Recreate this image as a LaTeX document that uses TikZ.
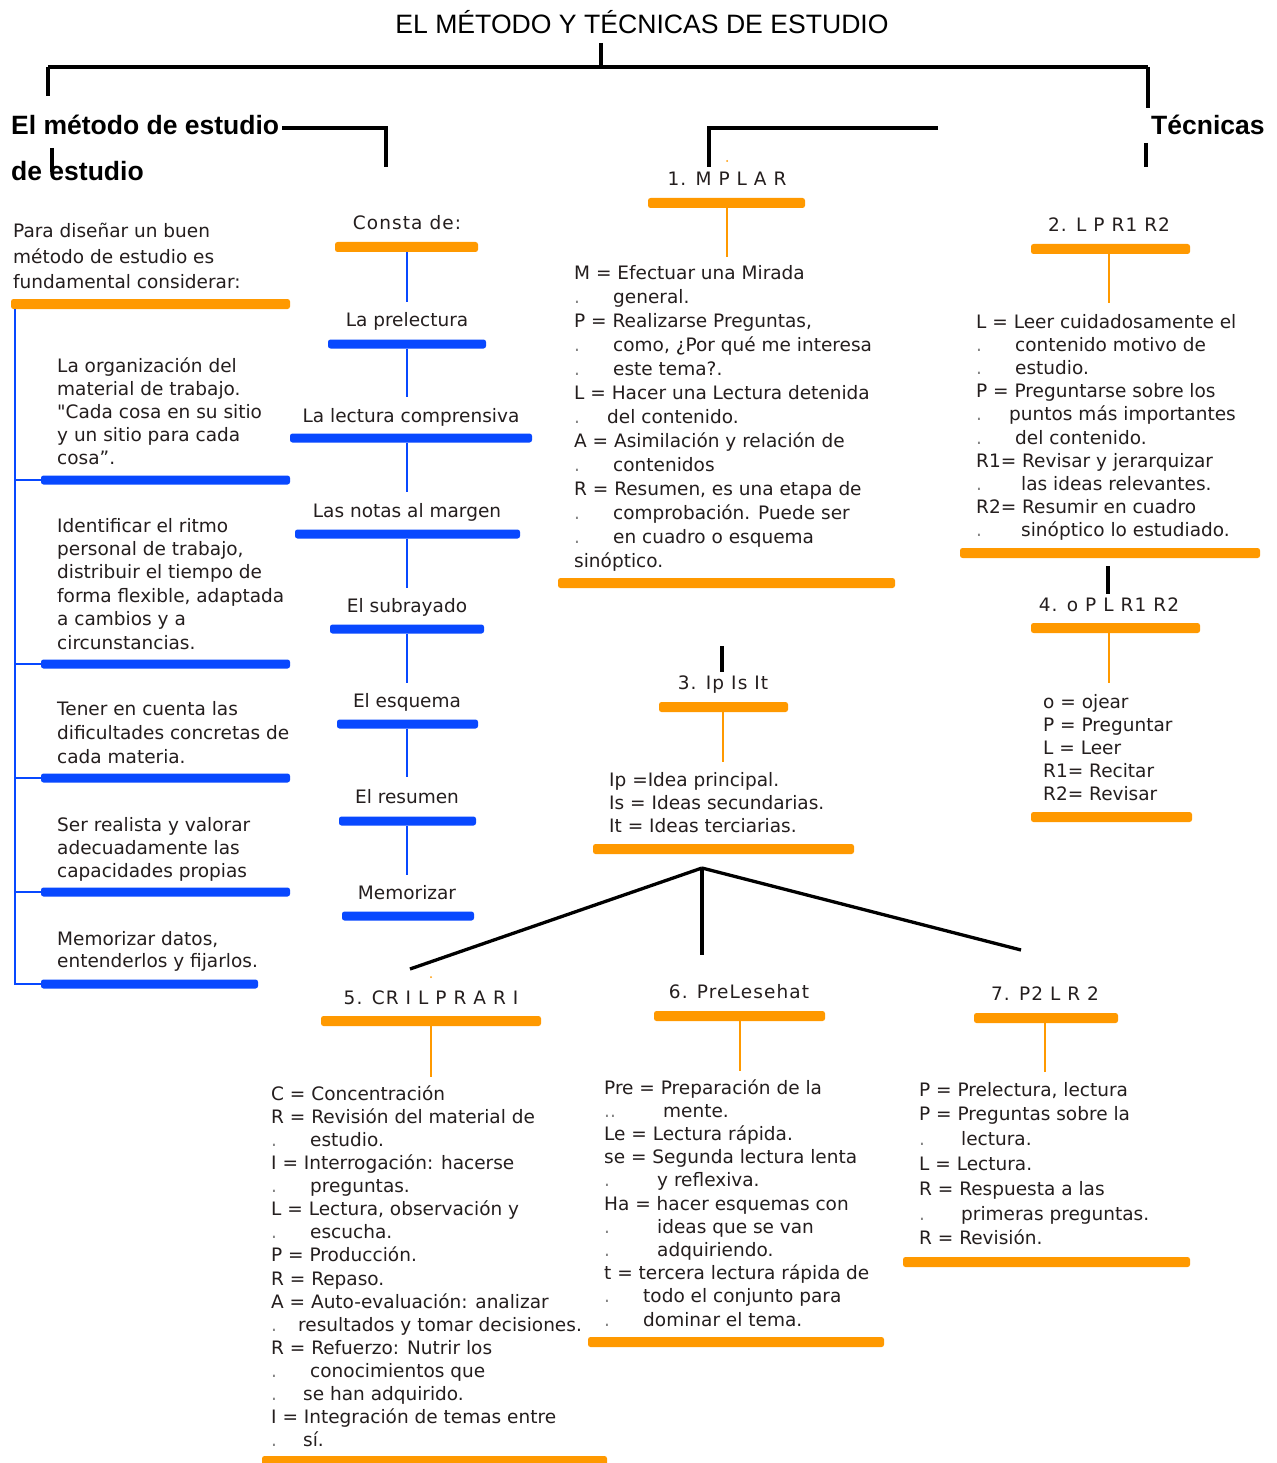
\documentclass[tikz,border=0pt]{standalone}
\usepackage{fontspec}
\setmainfont{DejaVu Sans}
\newfontfamily\arialf{Liberation Sans}
\definecolor{org}{RGB}{255,153,0}
\definecolor{blu}{RGB}{8,72,255}
\definecolor{txtc}{RGB}{36,30,30}
\definecolor{dotc}{RGB}{130,130,130}
\newcommand\dl[1]{\makebox[#1pt][l]{\textcolor{dotc}{.}}}
\newcommand\ddl[1]{\makebox[#1pt][l]{\textcolor{dotc}{..}}}
\newcommand\sq{{\addfontfeature{Ligatures=TeXOff}"}}
\newcommand\obar[4]{\node[obarst, minimum width=#4pt] (#1) at (#2,#3) {};}
\newcommand\bbar[4]{\node[bbarst, minimum width=#4pt] (#1) at (#2,#3) {};}
\begin{document}
\begin{tikzpicture}[x=1pt,y=-1pt,
 bodytxt/.style={anchor=base west, inner sep=0pt, text=txtc, font=\fontsize{18.5}{22}\selectfont},
 headt/.style={anchor=base, inner sep=0pt, text=txtc, font=\fontsize{18.5}{22}\selectfont},
 numt/.style={anchor=base, inner sep=0pt, text=txtc, font=\fontsize{18.5}{22}\selectfont\addfontfeature{LetterSpace=6}},
 obarst/.style={rectangle, fill=org, rounded corners=2.5pt, minimum height=10pt, inner sep=0pt},
 bbarst/.style={rectangle, fill=blu, rounded corners=2.5pt, minimum height=9pt, inner sep=0pt},
 oline/.style={draw=org, line width=1.8pt},
 bline/.style={draw=blu, line width=1.8pt},
 kline/.style={draw=black, line width=3.3pt},
]
\useasboundingbox (0,0) rectangle (1276,1463);
\fill[white] (0,0) rectangle (1276,1463);

% ---------- titles ----------
\node[anchor=base, inner sep=0pt, font=\arialf\fontsize{26.6}{30}\selectfont] (title) at (642,34) {EL MÉTODO Y TÉCNICAS DE ESTUDIO};
\node[anchor=base west, inner sep=0pt, font=\arialf\bfseries\fontsize{26.5}{30}\selectfont] (metodo) at (11,135) {El método de estudio};
\node[anchor=base west, inner sep=0pt, font=\arialf\bfseries\fontsize{26.5}{30}\selectfont] (deest) at (11,181) {de estudio};
\node[anchor=base west, inner sep=0pt, font=\arialf\bfseries\fontsize{26.5}{30}\selectfont] (tecnicas) at (1151,135) {Técnicas};

% black connectors
\coordinate (t0) at (601,43);
\coordinate (tj) at (601,67);
\coordinate (tl) at (48,67);
\coordinate (tr) at (1148,67);
\coordinate (tle) at (48,96);
\coordinate (tre) at (1148,108);
\draw[kline] (t0) -- (tj);
\draw[kline] (tl) -- (tr);
\draw[kline] (tl) -- (tle);
\draw[kline] (tr) -- (tre);
\coordinate (m1) at (282,128);
\coordinate (m2) at (386,167);
\draw[kline] (m1) -| (m2);
\coordinate (d1) at (52,148);
\coordinate (d2) at (52,172);
\draw[kline] (d1) -- (d2);
\coordinate (k1) at (938,128);
\coordinate (k2) at (709,167);
\draw[kline] (k1) -| (k2);
\coordinate (te1) at (1146,143);
\coordinate (te2) at (1146,167);
\draw[kline] (te1) -- (te2);
\coordinate (f1) at (1108,566);
\coordinate (f2) at (1108,594);
\draw[kline] (f1) -- (f2);
\coordinate (g1) at (722,646);
\coordinate (g2) at (722,672);
\draw[kline] (g1) -- (g2);
\coordinate (fork) at (702,868);
\coordinate (fa) at (410,969);
\coordinate (fb) at (702,955);
\coordinate (fc) at (1021,950);
\draw[kline] (fork) -- (fa);
\draw[kline] (fork) -- (fb);
\draw[kline] (fork) -- (fc);

% tiny orange specks
\fill[org] (727,161) circle (1pt);
\fill[org] (431,977) circle (1pt);

% ---------- left column ----------
\foreach \s [count=\i from 0] in {{Para diseñar un buen},{método de estudio es},{fundamental considerar:}}
  {\node[bodytxt] (pa\i) at (13,{238+25*\i}) {\s};}
\obar{pabar}{150.5}{304}{279}
\bbar{lb1}{165.5}{480}{249}
\bbar{lb2}{165.5}{664}{249}
\bbar{lb3}{165.5}{778}{249}
\bbar{lb4}{165.5}{892}{249}
\bbar{lb5}{149.5}{984}{217}
\coordinate (lv0) at (15,309);
\draw[bline] (lv0) |- (lb5.west);
\foreach \b in {lb1,lb2,lb3,lb4}{\draw[bline] (\b.west) -- (\b.west -| lv0);}

\foreach \s [count=\i from 0] in {{La organización del},{material de trabajo.},{\sq Cada cosa en su sitio},{y un sitio para cada},{cosa”.}}
  {\node[bodytxt] (la\i) at (57,{372+23*\i}) {\s};}
\foreach \s [count=\i from 0] in {{Identificar el ritmo},{personal de trabajo,},{distribuir el tiempo de},{forma flexible, adaptada},{a cambios y a},{circunstancias.}}
  {\node[bodytxt] (lb\i) at (57,{532+23.4*\i}) {\s};}
\foreach \s [count=\i from 0] in {{Tener en cuenta las},{dificultades concretas de},{cada materia.}}
  {\node[bodytxt] (lc\i) at (57,{715+24*\i}) {\s};}
\foreach \s [count=\i from 0] in {{Ser realista y valorar},{adecuadamente las},{capacidades propias}}
  {\node[bodytxt] (ld\i) at (57,{831+23*\i}) {\s};}
\foreach \s [count=\i from 0] in {{Memorizar datos,},{entenderlos y fijarlos.}}
  {\node[bodytxt] (le\i) at (57,{945+22*\i}) {\s};}

% ---------- middle column ----------
\node[numt] (consta) at (407,230) {Consta de:};
\obar{constabar}{406.5}{247}{143}
\node[headt] (h1) at (407,326) {La prelectura};
\bbar{hb1}{407}{344}{158}
\node[headt] (h2) at (411,422) {La lectura comprensiva};
\bbar{hb2}{411}{438}{242}
\node[headt] (h3) at (407,517) {Las notas al margen};
\bbar{hb3}{407.5}{534}{225}
\node[headt] (h4) at (407,612) {El subrayado};
\bbar{hb4}{407}{629}{154}
\node[headt] (h5) at (407,707) {El esquema};
\bbar{hb5}{407.5}{724}{141}
\node[headt] (h6) at (407,803) {El resumen};
\bbar{hb6}{407.5}{821}{137}
\node[headt] (h7) at (407,899) {Memorizar};
\bbar{hb7}{408}{916}{132}
\coordinate (c1) at (407,302);
\coordinate (c2) at (407,397);
\coordinate (c3) at (407,492);
\coordinate (c4) at (407,588);
\coordinate (c5) at (407,683);
\coordinate (c6) at (407,777);
\coordinate (c7) at (407,875);
\draw[bline] (constabar.south -| c1) -- (c1);
\draw[bline] (hb1.south -| c2) -- (c2);
\draw[bline] (hb2.south -| c3) -- (c3);
\draw[bline] (hb3.south -| c4) -- (c4);
\draw[bline] (hb4.south -| c5) -- (c5);
\draw[bline] (hb5.south -| c6) -- (c6);
\draw[bline] (hb6.south -| c7) -- (c7);

% ---------- 1. MPLAR ----------
\node[numt] (n1) at (727,186) {1. M P L A R};
\obar{n1bar}{726.5}{203}{157}
\coordinate (n1c) at (727,257);
\draw[oline] (n1bar.south -| n1c) -- (n1c);
\foreach \s [count=\i from 0] in {
 {M = Efectuar una Mirada},
 {\dl{39}general.},
 {P = Realizarse Preguntas,},
 {\dl{39}como, ¿Por qué me interesa},
 {\dl{39}este tema?.},
 {L = Hacer una Lectura detenida},
 {\dl{33}del contenido.},
 {A = Asimilación y relación de},
 {\dl{39}contenidos},
 {R = Resumen, es una etapa de},
 {\dl{39}comprobación. Puede ser},
 {\dl{39}en cuadro o esquema},
 {sinóptico.}}
  {\node[bodytxt] (mp\i) at (574,{279+24*\i}) {\s};}
\obar{n1end}{726.5}{583}{337}

% ---------- 2. L P R1 R2 ----------
\node[numt] (n2) at (1109,232) {2. L P R1 R2};
\obar{n2bar}{1110.5}{249}{159}
\coordinate (n2c) at (1109,303);
\draw[oline] (n2bar.south -| n2c) -- (n2c);
\foreach \s [count=\i from 0] in {
 {L = Leer cuidadosamente el},
 {\dl{39}contenido motivo de},
 {\dl{39}estudio.},
 {P = Preguntarse sobre los},
 {\dl{33}puntos más importantes},
 {\dl{39}del contenido.},
 {R1= Revisar y jerarquizar},
 {\dl{45}las ideas relevantes.},
 {R2= Resumir en cuadro},
 {\dl{45}sinóptico lo estudiado.}}
  {\node[bodytxt] (lp\i) at (976,{328+23.2*\i}) {\s};}
\obar{n2end}{1110}{553}{300}

% ---------- 4. o P L R1 R2 ----------
\node[numt] (n4) at (1109,611) {4. o P L R1 R2};
\obar{n4bar}{1115.5}{628}{169}
\coordinate (n4c) at (1109,683);
\draw[oline] (n4bar.south -| n4c) -- (n4c);
\foreach \s [count=\i from 0] in {{o = ojear},{P = Preguntar},{L = Leer},{R1= Recitar},{R2= Revisar}}
  {\node[bodytxt] (op\i) at (1043,{708+23*\i}) {\s};}
\obar{n4end}{1111.5}{817}{161}

% ---------- 3. Ip Is It ----------
\node[numt] (n3) at (723,689) {3. Ip Is It};
\obar{n3bar}{723.5}{707}{129}
\coordinate (n3c) at (723,762);
\draw[oline] (n3bar.south -| n3c) -- (n3c);
\foreach \s [count=\i from 0] in {{Ip =Idea principal.},{Is = Ideas secundarias.},{It = Ideas terciarias.}}
  {\node[bodytxt] (ip\i) at (609,{786+23*\i}) {\s};}
\obar{n3end}{723.5}{849}{261}

% ---------- 5. CR I L P R A R I ----------
\node[numt] (n5) at (431,1004) {5. CR I L P R A R I};
\obar{n5bar}{431}{1021}{220}
\coordinate (n5c) at (431,1077);
\draw[oline] (n5bar.south -| n5c) -- (n5c);
\foreach \s [count=\i from 0] in {
 {C = Concentración},
 {R = Revisión del material de},
 {\dl{39}estudio.},
 {I = Interrogación: hacerse},
 {\dl{39}preguntas.},
 {L = Lectura, observación y},
 {\dl{39}escucha.},
 {P = Producción.},
 {R = Repaso.},
 {A = Auto-evaluación: analizar},
 {\dl{27}resultados y tomar decisiones.},
 {R = Refuerzo: Nutrir los},
 {\dl{39}conocimientos que},
 {\dl{32}se han adquirido.},
 {I = Integración de temas entre},
 {\dl{32}sí.}}
  {\node[bodytxt] (cr\i) at (271,{1100+23.13*\i}) {\s};}
\obar{n5end}{434.5}{1461}{345}

% ---------- 6. PreLesehat ----------
\node[numt] (n6) at (739,998) {6. PreLesehat};
\obar{n6bar}{739.5}{1016}{171}
\coordinate (n6c) at (740,1071);
\draw[oline] (n6bar.south -| n6c) -- (n6c);
\foreach \s [count=\i from 0] in {
 {Pre = Preparación de la},
 {\ddl{59}mente.},
 {Le = Lectura rápida.},
 {se = Segunda lectura lenta},
 {\dl{53}y reflexiva.},
 {Ha = hacer esquemas con},
 {\dl{53}ideas que se van},
 {\dl{53}adquiriendo.},
 {t = tercera lectura rápida de},
 {\dl{39}todo el conjunto para},
 {\dl{39}dominar el tema.}}
  {\node[bodytxt] (pr\i) at (604,{1094+23.2*\i}) {\s};}
\obar{n6end}{736}{1342}{296}

% ---------- 7. P2 L R 2 ----------
\node[numt] (n7) at (1045,1000) {7. P2 L R 2};
\obar{n7bar}{1046}{1018}{144}
\coordinate (n7c) at (1045,1072);
\draw[oline] (n7bar.south -| n7c) -- (n7c);
\foreach \s [count=\i from 0] in {
 {P = Prelectura, lectura},
 {P = Preguntas sobre la},
 {\dl{42}lectura.},
 {L = Lectura.},
 {R = Respuesta a las},
 {\dl{42}primeras preguntas.},
 {R = Revisión.}}
  {\node[bodytxt] (pq\i) at (919,{1096+24.8*\i}) {\s};}
\obar{n7end}{1046.5}{1262}{287}
\end{tikzpicture}
\end{document}
